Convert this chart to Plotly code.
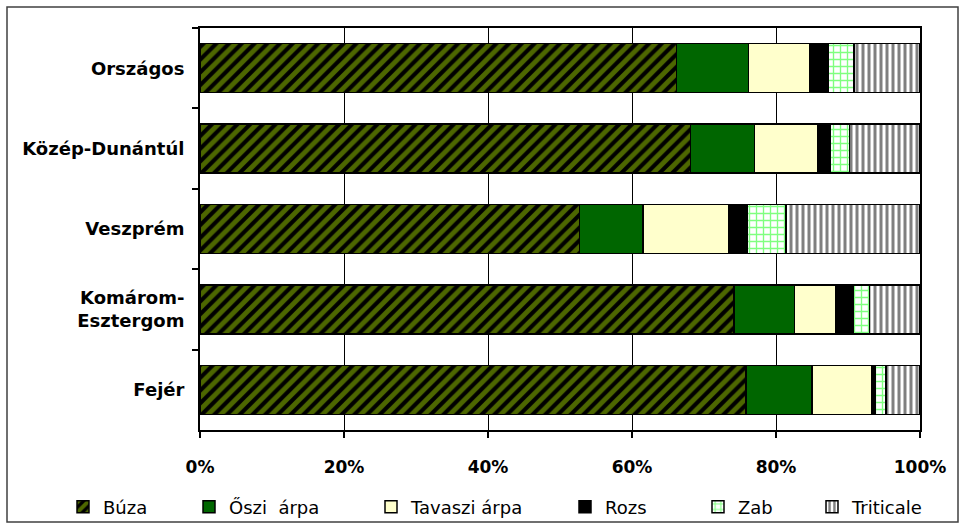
import plotly.graph_objects as go

categories = ["Országos", "Közép-Dunántúl", "Veszprém", "Komárom-<br>Esztergom", "Fejér"]
series_names = ["Búza", "Őszi  árpa", "Tavaszi árpa", "Rozs", "Zab", "Triticale"]
buza = [66.2, 68.1, 52.7, 74.2, 75.8]
oszi_arpa = [10.0, 8.9, 8.8, 8.4, 9.2]
tavaszi_arpa = [8.5, 8.8, 11.9, 5.7, 8.3]
rozs = [2.5, 1.8, 2.6, 2.4, 0.5]
zab = [3.6, 2.6, 5.4, 2.3, 1.5]
triticale = [9.2, 9.8, 18.6, 7.0, 4.7]
x_ticks = [0, 20, 40, 60, 80, 100]
x_tick_labels = ["0%", "20%", "40%", "60%", "80%", "100%"]

values = [buza, oszi_arpa, tavaszi_arpa, rozs, zab, triticale]
styles = [
    dict(color="#000000", pattern=dict(shape="/", fgcolor="#9ACD00", bgcolor="#000000", size=9, solidity=0.55)),
    dict(color="#006600"),
    dict(color="#FFFFCC"),
    dict(color="#000000"),
    dict(color="#FFFFFF", pattern=dict(shape="+", fgcolor="#00FF00", bgcolor="#FFFFFF", size=7, solidity=0.35)),
    dict(color="#FFFFFF", pattern=dict(shape="|", fgcolor="#000000", bgcolor="#FFFFFF", size=6, solidity=0.5)),
]

# page x (px) of each legend entry's left edge
legend_left_px = [63, 189, 371, 565, 698, 812]

PLOT_L, PLOT_R, PLOT_T, PLOT_B = 200, 920, 28, 430
PW, PH = PLOT_R - PLOT_L, PLOT_B - PLOT_T

font_family = "DejaVu Sans, Verdana, sans-serif"

fig = go.Figure()
legends = {}
for i, (name, vals, st) in enumerate(zip(series_names, values, styles)):
    marker = dict(st)
    marker["line"] = dict(color="#000000", width=1.5)
    lg = "legend" if i == 0 else f"legend{i + 1}"
    fig.add_trace(go.Bar(
        y=categories, x=vals, name=name, orientation="h", marker=marker,
        legend=lg,
        hovertemplate="%{y}: %{x:.1f}%<extra>" + name + "</extra>",
    ))
    legends[lg] = dict(
        orientation="h", x=(legend_left_px[i] - PLOT_L) / PW, xanchor="left",
        y=(PLOT_B - 507) / PH, yanchor="middle",
        font=dict(size=18, family=font_family, color="#000000"),
        bgcolor="rgba(0,0,0,0)", borderwidth=0, itemwidth=30,
    )

fig.update_layout(
    barmode="stack",
    bargap=0.39,
    width=964, height=530,
    margin=dict(l=PLOT_L, r=964 - PLOT_R, t=PLOT_T, b=530 - PLOT_B, autoexpand=False),
    paper_bgcolor="#FFFFFF",
    plot_bgcolor="#FFFFFF",
    font=dict(family=font_family, color="#000000"),
    showlegend=True,
    xaxis=dict(
        range=[0, 100], tickvals=x_ticks, ticktext=x_tick_labels,
        showgrid=True, gridcolor="#000000", gridwidth=1,
        showline=True, linecolor="#000000", linewidth=2, mirror=True,
        ticks="outside", ticklen=6, tickcolor="#000000", tickwidth=2,
        tickfont=dict(size=17, family=font_family, weight="bold"),
        ticklabelstandoff=15,
        zeroline=False, fixedrange=True,
    ),
    yaxis=dict(
        categoryorder="array", categoryarray=categories, autorange="reversed",
        showline=True, linecolor="#000000", linewidth=2, mirror=True,
        ticks="outside", ticklen=6, tickcolor="#000000", tickwidth=2,
        tickson="boundaries", showgrid=False,
        tickfont=dict(size=18, family=font_family, weight="bold"),
        ticklabelstandoff=10, fixedrange=True,
    ),
    shapes=[dict(
        type="rect", xref="paper", yref="paper",
        x0=(7 - PLOT_L) / PW, x1=(958 - PLOT_L) / PW,
        y0=(PLOT_B - 522) / PH, y1=(PLOT_B - 7) / PH,
        line=dict(color="#404040", width=1.5), fillcolor="rgba(0,0,0,0)", layer="below",
    )],
    **legends,
)

fig.write_html("out.html", config={"displayModeBar": False},
               post_script="document.body.style.margin='0px';")
